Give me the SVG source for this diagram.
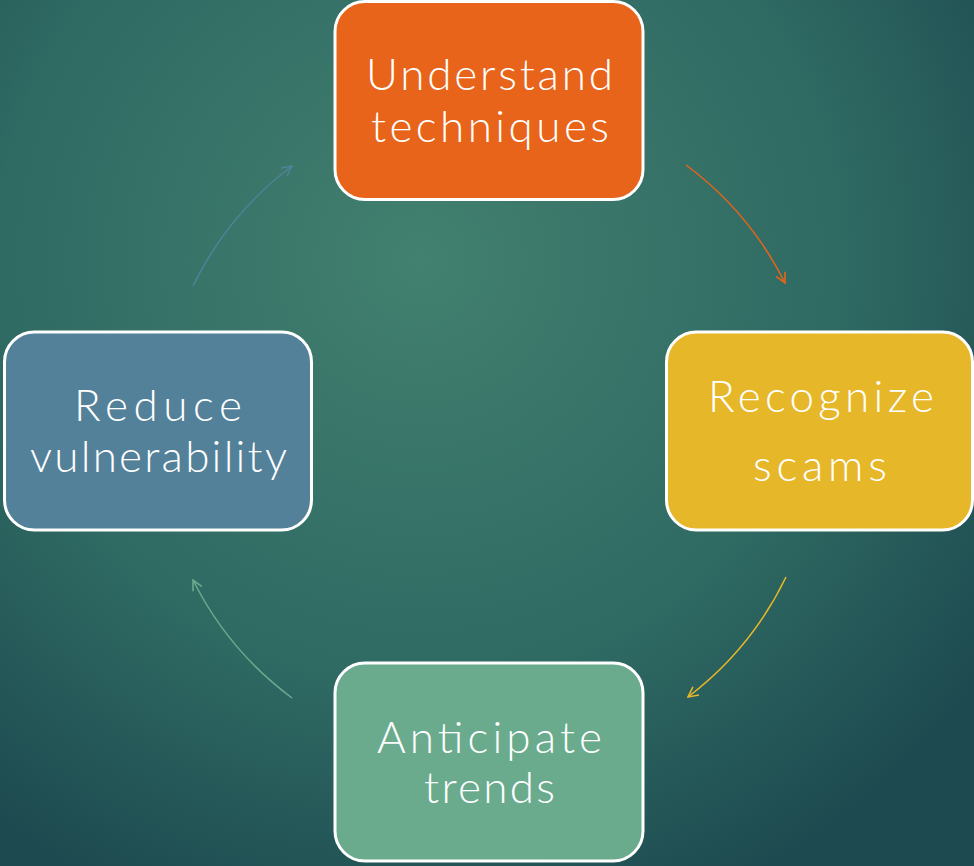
<svg xmlns="http://www.w3.org/2000/svg" width="974" height="866" viewBox="0 0 974 866">
<defs>
<radialGradient id="bg" cx="420" cy="260" r="700" gradientUnits="userSpaceOnUse">
<stop offset="0" stop-color="#42806f"/>
<stop offset="0.6" stop-color="#2f6a63"/>
<stop offset="1" stop-color="#1d4a50"/>
</radialGradient>
<marker id="ao" viewBox="0 0 12 12" refX="11" refY="6" markerWidth="12" markerHeight="12" markerUnits="userSpaceOnUse" orient="auto"><path d="M1,1 L11,6 L1,11" fill="none" stroke="#e8641a" stroke-width="1.6"/></marker>
<marker id="ay" viewBox="0 0 12 12" refX="11" refY="6" markerWidth="12" markerHeight="12" markerUnits="userSpaceOnUse" orient="auto"><path d="M1,1 L11,6 L1,11" fill="none" stroke="#e6b729" stroke-width="1.6"/></marker>
<marker id="ag" viewBox="0 0 12 12" refX="11" refY="6" markerWidth="12" markerHeight="12" markerUnits="userSpaceOnUse" orient="auto"><path d="M1,1 L11,6 L1,11" fill="none" stroke="#6aab8e" stroke-width="1.6"/></marker>
<marker id="ab" viewBox="0 0 12 12" refX="11" refY="6" markerWidth="12" markerHeight="12" markerUnits="userSpaceOnUse" orient="auto"><path d="M1,1 L11,6 L1,11" fill="none" stroke="#538199" stroke-width="1.6"/></marker>
</defs>
<style>
.box{stroke:#ffffff;stroke-width:3}
.lbl{fill:#ffffff;font-family:"Lato","Open Sans","Liberation Sans",sans-serif;font-weight:300;font-size:44px;text-anchor:middle}
.con{fill:none;stroke-width:1.5}
</style>
<rect x="0" y="0" width="974" height="866" fill="url(#bg)"/>
<g id="connectors">
<path class="con" d="M686,165 A332,332 0 0 1 785,283" stroke="#e8641a" marker-end="url(#ao)"/>
<path class="con" d="M786,577 A332,332 0 0 1 688,697" stroke="#e6b729" marker-end="url(#ay)"/>
<path class="con" d="M292,698 A332,332 0 0 1 193,580" stroke="#6aab8e" marker-end="url(#ag)"/>
<path class="con" d="M193,286 A332,332 0 0 1 292,166" stroke="#538199" marker-end="url(#ab)"/>
</g>
<g id="node-understand">
<rect class="box" x="335" y="1.5" width="308" height="198" rx="30" fill="#e8641a"/>
<text class="lbl" x="489.5" y="90" textLength="247" lengthAdjust="spacing">Understand</text>
<text class="lbl" x="490" y="142" textLength="238" lengthAdjust="spacing">techniques</text>
</g>
<g id="node-recognize">
<rect class="box" x="666.5" y="332" width="306" height="198" rx="30" fill="#e6b729"/>
<text class="lbl" x="821" y="412" textLength="226" lengthAdjust="spacing">Recognize</text>
<text class="lbl" x="820" y="481" textLength="134" lengthAdjust="spacing">scams</text>
</g>
<g id="node-anticipate">
<rect class="box" x="335" y="663" width="308" height="198" rx="30" fill="#6aab8e"/>
<text class="lbl" x="489.5" y="753" textLength="225" lengthAdjust="spacing">Anticipate</text>
<text class="lbl" x="489.5" y="803" textLength="131" lengthAdjust="spacing">trends</text>
</g>
<g id="node-reduce">
<rect class="box" x="4.5" y="332" width="307" height="198" rx="30" fill="#538199"/>
<text class="lbl" x="158" y="421" textLength="168" lengthAdjust="spacing">Reduce</text>
<text class="lbl" x="158.5" y="472" textLength="257" lengthAdjust="spacing">vulnerability</text>
</g>
</svg>
